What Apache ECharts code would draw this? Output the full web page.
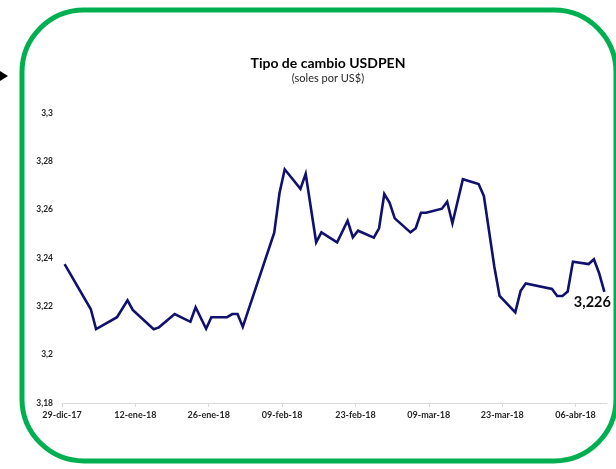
<!DOCTYPE html>
<html>
<head>
<meta charset="utf-8">
<script src="https://cdn.jsdelivr.net/npm/echarts@6/dist/echarts.min.js"></script>
<style>
html,body{margin:0;padding:0;background:#fff;}
#c{width:616px;height:469px;}
</style>
</head>
<body>
<div id="c"></div>
<script>
// ---- data ----
const startDate = '2017-12-29';
const dates = [
 '2017-12-29','2018-01-03','2018-01-04','2018-01-08','2018-01-10','2018-01-11','2018-01-15','2018-01-16',
 '2018-01-19','2018-01-22','2018-01-23','2018-01-25','2018-01-26','2018-01-29','2018-01-30','2018-01-31',
 '2018-02-01','2018-02-07','2018-02-08','2018-02-09','2018-02-12','2018-02-13','2018-02-15','2018-02-16',
 '2018-02-19','2018-02-21','2018-02-22','2018-02-23','2018-02-26','2018-02-27','2018-02-28','2018-03-01',
 '2018-03-02','2018-03-05','2018-03-06','2018-03-07','2018-03-08','2018-03-11','2018-03-12','2018-03-13',
 '2018-03-15','2018-03-18','2018-03-19','2018-03-21','2018-03-22','2018-03-25','2018-03-26','2018-03-27',
 '2018-04-01','2018-04-02','2018-04-03','2018-04-04','2018-04-05','2018-04-08','2018-04-09','2018-04-10',
 '2018-04-11'
];
const values = [
 3.2375,3.2188,3.2106,3.2155,3.2225,3.2185,3.2105,3.2113,
 3.2168,3.2136,3.2196,3.2107,3.2155,3.2155,3.2168,3.2168,
 3.2115,3.2505,3.2668,3.2767,3.2686,3.2748,3.2465,3.2506,
 3.2465,3.2554,3.2486,3.2513,3.2484,3.2523,3.2665,3.2629,
 3.2564,3.2506,3.2523,3.2587,3.2587,3.2604,3.2633,3.2544,
 3.2726,3.2706,3.2657,3.2364,3.2243,3.2175,3.2263,3.2295,
 3.2272,3.2243,3.2243,3.2261,3.2385,3.2375,3.2395,3.2337,
 3.226
];
const xTickLabels = ['29-dic-17','12-ene-18','26-ene-18','09-feb-18','23-feb-18','09-mar-18','23-mar-18','06-abr-18'];
const yTickLabels = ['3,18','3,2','3,22','3,24','3,26','3,28','3,3'];
const titleText = 'Tipo de cambio USDPEN';
const subtitleText = '(soles por US$)';
const lastLabel = '3,226';

// ---- build ----
const DAY = 86400000;
const t0 = Date.parse(startDate + 'T00:00:00Z');
const seriesData = dates.map((d, i) => {
  const idx = (Date.parse(d + 'T00:00:00Z') - t0) / DAY + 0.5;
  return [idx, values[i]];
});

const chart = echarts.init(document.getElementById('c'), null, {renderer: 'canvas'});
const FONT = 'Lato, "Liberation Sans", sans-serif';
chart.setOption({
  backgroundColor: '#ffffff',
  animation: false,
  title: {
    text: titleText,
    subtext: subtitleText,
    left: 323, top: 51, textAlign: 'center', itemGap: 3,
    textStyle: {fontFamily: FONT, fontWeight: 'bold', fontSize: 14, color: '#000000'},
    subtextStyle: {fontFamily: FONT, fontSize: 11, color: '#262626'}
  },
  grid: {left: 62, right: 9, top: 113, bottom: 66, containLabel: false},
  xAxis: {
    type: 'value', min: 0, max: 104, interval: 14,
    axisLine: {show: true, lineStyle: {color: '#D9D9D9', width: 1}},
    axisTick: {show: true, length: 4, lineStyle: {color: '#D9D9D9'}},
    splitLine: {show: false},
    axisLabel: {
      showMaxLabel: false, margin: 8,
      fontFamily: FONT, fontWeight: 'bold', fontSize: 9, color: '#262626',
      formatter: v => (v % 14 === 0 && v / 14 < xTickLabels.length) ? xTickLabels[v / 14] : ''
    }
  },
  yAxis: {
    type: 'value', min: 3.18, max: 3.3, interval: 0.02,
    axisLine: {show: false}, axisTick: {show: false}, splitLine: {show: false},
    axisLabel: {
      margin: 9, fontFamily: FONT, fontWeight: 'bold', fontSize: 8.5, color: '#262626',
      formatter: v => yTickLabels[Math.round((v - 3.18) / 0.02)]
    }
  },
  series: [{
    type: 'line', data: seriesData, showSymbol: false, symbol: 'none',
    lineStyle: {color: '#10106E', width: 2.6, join: 'miter'},
    markPoint: {
      symbol: 'circle', symbolSize: 0,
      data: [{coord: seriesData[seriesData.length - 1], value: lastLabel}],
      label: {
        show: true, position: 'bottom', distance: 3, offset: [-12, 0],
        formatter: lastLabel,
        fontFamily: FONT, fontWeight: 'bold', fontSize: 14.5, color: '#0D0D0D'
      }
    }
  }],
  graphic: [
    {type: 'rect', shape: {x: 22, y: 10, width: 594, height: 451, r: 62},
     style: {fill: 'none', stroke: '#00B050', lineWidth: 5}, z: 10},
    {type: 'polygon', shape: {points: [[0, 71], [8, 76], [0, 81]]},
     style: {fill: '#000000'}}
  ]
});
</script>
</body>
</html>
